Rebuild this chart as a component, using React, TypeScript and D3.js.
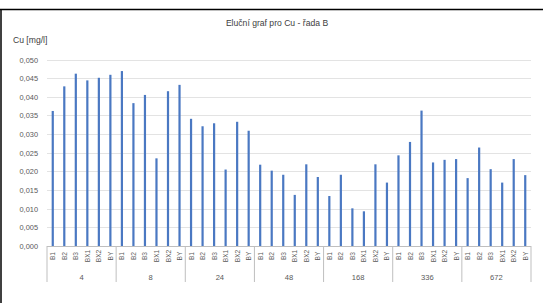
import React from "react";
import * as d3 from "d3";

const groups = ["4", "8", "24", "48", "168", "336", "672"];
const subCats = ["B1", "B2", "B3", "BX1", "BX2", "BY"];
const values = [
  0.0362, 0.0428, 0.0462, 0.0444, 0.0451, 0.0459,
  0.0469, 0.0383, 0.0405, 0.0235, 0.0415, 0.0432,
  0.0341, 0.0321, 0.0329, 0.0205, 0.0333, 0.0309,
  0.0218, 0.0202, 0.0191, 0.0137, 0.0219, 0.0185,
  0.0134, 0.0191, 0.0101, 0.0093, 0.0219, 0.0170,
  0.0243, 0.0279, 0.0363, 0.0224, 0.0231, 0.0233,
  0.0182, 0.0264, 0.0206, 0.0170, 0.0233, 0.0190,
];
const yTicks = [0, 0.005, 0.01, 0.015, 0.02, 0.025, 0.03, 0.035, 0.04, 0.045, 0.05];
const title = "Eluční graf pro Cu - řada B";
const yTitle = "Cu [mg/l]";

const W = 543, H = 306;
const left = 47, right = 531, top = 59.5, bottom = 246;
const font = "'Liberation Sans', Arial, sans-serif";

export default function App() {
  const keys = groups.flatMap((g) => subCats.map((c) => `${g}|${c}`));
  const x = d3.scaleBand<string>().domain(keys).range([left, right]).paddingInner(0).paddingOuter(0);
  const y = d3.scaleLinear().domain([0, 0.05]).range([bottom, top]);
  const gx = d3.scaleBand<string>().domain(groups).range([left, right]);
  const fmt = (v: number) => d3.format(".3f")(v).replace(".", ",");
  const bw = 2.2;
  return (
    <svg width={W} height={H} style={{ position: "absolute", left: 0, top: 0, background: "#fff" }}>
      <rect x={0} y={0} width={W} height={H} fill="#fff" />
      <line x1={0} x2={W} y1={9.5} y2={9.5} stroke="#000" strokeWidth={1.5} />
      <line x1={1} x2={1} y1={9} y2={303} stroke="#000" strokeWidth={1.5} />
      <text x={277} y={26} textAnchor="middle" fontFamily={font} fontSize={8.6} fill="#404040">{title}</text>
      <text x={13} y={43} fontFamily={font} fontSize={8.6} fill="#404040">{yTitle}</text>
      {yTicks.map((t) => (
        <g key={t}>
          {t > 0 && <line x1={left} x2={right} y1={Math.round(y(t)) + 0.5} y2={Math.round(y(t)) + 0.5} stroke="#e3e3e3" strokeWidth={1} />}
          <text x={38} y={y(t) + 3} textAnchor="end" fontFamily={font} fontSize={7.4} fill="#595959">{fmt(t)}</text>
        </g>
      ))}
      {keys.map((k, i) => (
        <rect key={k} x={x(k)! + x.bandwidth() / 2 - bw / 2} y={y(values[i])} width={bw} height={bottom - y(values[i])} fill="#4a78c2" />
      ))}
      <line x1={left} x2={right} y1={bottom + 0.5} y2={bottom + 0.5} stroke="#bfbfbf" strokeWidth={1} />
      {[...groups.map((g) => gx(g)!), right].map((px, i) => (
        <line key={i} x1={px} x2={px} y1={bottom} y2={282} stroke="#bfbfbf" strokeWidth={1} />
      ))}
      {keys.map((k) => {
        const cx = x(k)! + x.bandwidth() / 2;
        const label = k.split("|")[1];
        return (
          <text key={k} transform={`translate(${cx + 2.5},256) rotate(-90)`} textAnchor="middle" fontFamily={font} fontSize={6.6} fill="#595959">{label}</text>
        );
      })}
      {groups.map((g) => (
        <text key={g} x={gx(g)! + gx.bandwidth() / 2} y={279.5} textAnchor="middle" fontFamily={font} fontSize={7.6} fill="#595959">{g}</text>
      ))}
    </svg>
  );
}
